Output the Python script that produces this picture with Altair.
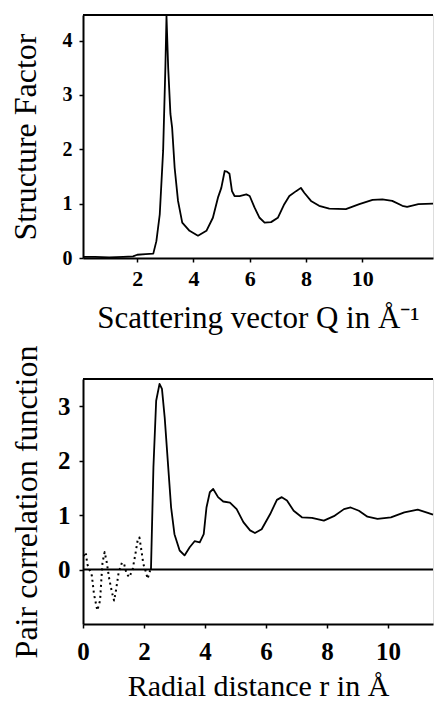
import altair as alt
import pandas as pd

# ---- data ----
q_vals = [0.07, 0.5, 1.0, 1.5, 1.85, 2.0, 2.3, 2.57, 2.68, 2.8, 2.92, 3.0, 3.04, 3.1, 3.18,
          3.24, 3.33, 3.45, 3.6, 3.86, 4.16, 4.46, 4.69, 4.87, 4.99, 5.11, 5.19, 5.28, 5.37,
          5.46, 5.64, 5.88, 6.0, 6.17, 6.35, 6.53, 6.76, 7.0, 7.23, 7.41, 7.65, 7.82, 7.94,
          8.18, 8.47, 8.83, 9.42, 9.9, 10.37, 10.72, 11.07, 11.43, 11.6, 12.0, 12.52]
s_vals = [0.02, 0.02, 0.01, 0.02, 0.03, 0.06, 0.07, 0.08, 0.31, 0.8, 1.97, 3.5, 4.45, 3.5, 2.65,
          2.4, 1.66, 1.05, 0.65, 0.5, 0.41, 0.5, 0.74, 1.11, 1.29, 1.6, 1.59, 1.55, 1.23,
          1.14, 1.14, 1.17, 1.14, 0.93, 0.74, 0.65, 0.66, 0.74, 0.99, 1.14, 1.23, 1.29, 1.2,
          1.05, 0.96, 0.91, 0.9, 0.99, 1.07, 1.08, 1.05, 0.96, 0.94, 0.99, 1.0]

r_solid = [2.23, 2.31, 2.4, 2.51, 2.59, 2.68, 2.78, 2.89, 3.0, 3.17, 3.33, 3.5, 3.66, 3.83,
           3.96, 4.05, 4.16, 4.27, 4.43, 4.6, 4.82, 5.04, 5.26, 5.48, 5.64, 5.86, 6.14, 6.36,
           6.52, 6.69, 6.91, 7.18, 7.51, 7.9, 8.23, 8.56, 8.78, 9.05, 9.33, 9.66, 10.1, 10.54,
           10.98, 11.31, 11.48]
g_solid = [0.01, 1.88, 3.1, 3.41, 3.32, 2.79, 2.0, 1.14, 0.65, 0.35, 0.26, 0.41, 0.52, 0.5,
           0.65, 1.14, 1.42, 1.48, 1.33, 1.25, 1.23, 1.11, 0.87, 0.72, 0.67, 0.74, 1.02, 1.28,
           1.33, 1.27, 1.08, 0.96, 0.95, 0.9, 0.98, 1.11, 1.14, 1.08, 0.97, 0.93, 0.96, 1.05,
           1.1, 1.04, 1.01]

r_dotted = [0.02, 0.09, 0.14, 0.29, 0.36, 0.47, 0.56, 0.6, 0.64, 0.71, 0.78, 0.86, 0.95, 1.02,
            1.08, 1.17, 1.28, 1.35, 1.43, 1.52, 1.63, 1.72, 1.79, 1.85, 1.9, 1.98, 2.05, 2.12,
            2.18, 2.23]
g_dotted = [0.25, 0.32, 0.1, -0.11, -0.45, -0.75, -0.57, -0.2, 0.13, 0.32, 0.13, -0.17, -0.42,
            -0.57, -0.39, -0.05, 0.13, 0.1, -0.08, -0.14, 0.01, 0.29, 0.53, 0.59, 0.41, 0.1,
            -0.02, -0.17, -0.05, 0.02]

top_x_ticks = [2, 4, 6, 8, 10]
top_y_ticks = [0, 1, 2, 3, 4]
bot_x_ticks = [0, 2, 4, 6, 8, 10]
bot_y_ticks = [0, 1, 2, 3]

top_x_title = "Scattering vector Q in Å⁻¹"
top_y_title = "Structure Factor"
bot_x_title = "Radial distance r in Å"
bot_y_title = "Pair correlation function"

SERIF = "Liberation Serif"


def axis(values, title, label_size, title_size, label_pad, title_pad):
    return alt.Axis(
        values=values, title=title, grid=False, format="d", labelFlush=False,
        domainColor="black", domainWidth=2,
        tickColor="black", tickSize=4, tickWidth=1.5,
        labelFont=SERIF, labelFontWeight="bold", labelFontSize=label_size,
        labelColor="black", labelPadding=label_pad,
        titleFont=SERIF, titleFontWeight="normal", titleFontSize=title_size,
        titleColor="black", titlePadding=title_pad,
    )


top_df = pd.DataFrame({"Q": q_vals, "S": s_vals})
solid_df = pd.DataFrame({"r": r_solid, "g": g_solid})
dotted_df = pd.DataFrame({"r": r_dotted, "g": g_dotted})
one = pd.DataFrame({"a": [0]})

top_xs = alt.Scale(domain=[0.07, 12.52], nice=False, zero=False)
top_ys = alt.Scale(domain=[0, 4.47], nice=False)

top_line = alt.Chart(top_df).mark_line(
    color="black", strokeWidth=1.8, strokeJoin="round"
).encode(
    x=alt.X("Q:Q", scale=top_xs, axis=axis(top_x_ticks, top_x_title, 22, 31, 6, 14)),
    y=alt.Y("S:Q", scale=top_ys, axis=axis(top_y_ticks, top_y_title, 20, 32, 7, 20)),
)
top_border = alt.Chart(one).mark_rule(color="black", strokeWidth=2).encode(y=alt.value(0))
top = alt.layer(top_line, top_border).properties(width=350, height=243)

bot_xs = alt.Scale(domain=[0, 11.48], nice=False)
bot_ys = alt.Scale(domain=[-1, 3.5], nice=False)

bot_solid = alt.Chart(solid_df).mark_line(
    color="black", strokeWidth=1.8, strokeJoin="round"
).encode(
    x=alt.X("r:Q", scale=bot_xs, axis=axis(bot_x_ticks, bot_x_title, 25, 30, 11, 7)),
    y=alt.Y("g:Q", scale=bot_ys, axis=axis(bot_y_ticks, bot_y_title, 25, 32, 9, 14)),
)
bot_dotted = alt.Chart(dotted_df).mark_line(
    color="black", strokeWidth=2, strokeDash=[2, 3.5], strokeJoin="round"
).encode(x=alt.X("r:Q", scale=bot_xs), y=alt.Y("g:Q", scale=bot_ys))
bot_zero = alt.Chart(one).mark_rule(color="black", strokeWidth=2).encode(y=alt.datum(0))
bot_border = alt.Chart(one).mark_rule(color="black", strokeWidth=2).encode(y=alt.value(0))
bottom = alt.layer(bot_zero, bot_border, bot_dotted, bot_solid).properties(width=350, height=245)

chart = alt.vconcat(top, bottom, spacing=121, bounds="flush").properties(
    padding={"left": 0, "top": 5, "right": -1, "bottom": 0}
).configure_view(stroke=None).configure(background="white")

chart.save("out.html", embed_options={"renderer": "svg", "actions": False})
